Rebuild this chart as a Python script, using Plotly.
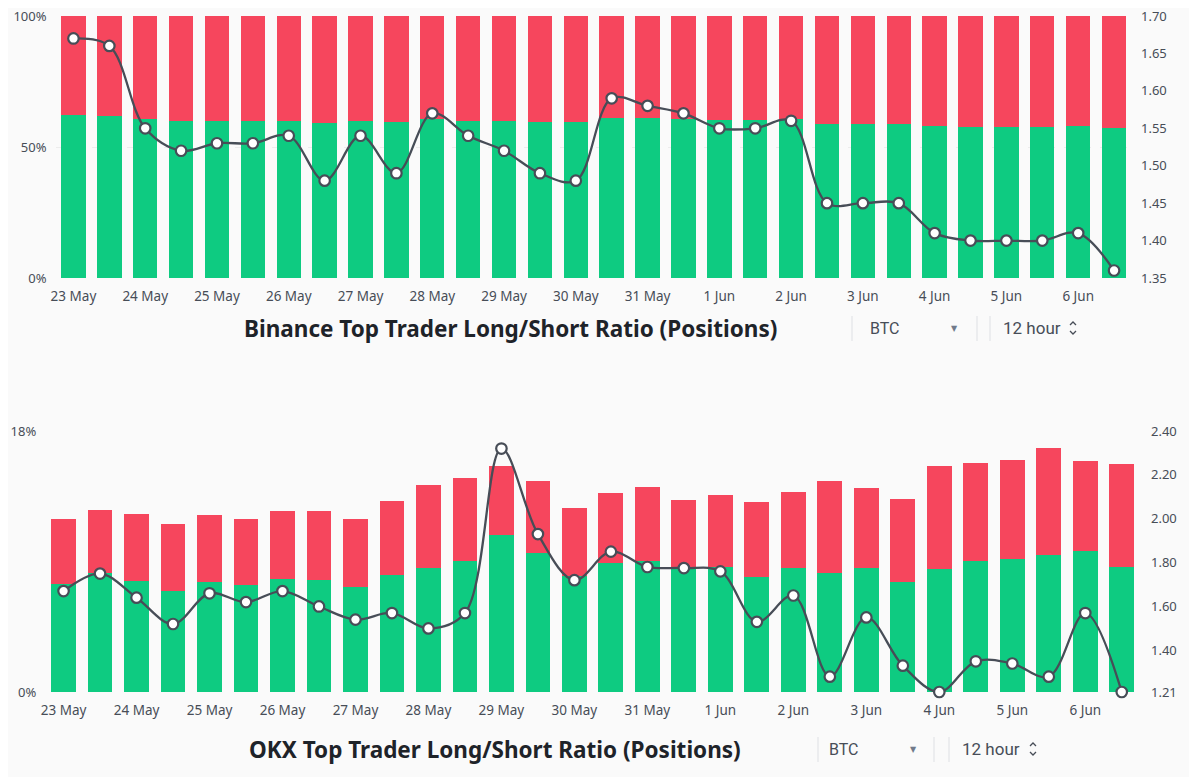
import plotly.graph_objects as go
from plotly.subplots import make_subplots

# 12-hour periods
periods = ["2024-05-23 00:00", "2024-05-23 12:00", "2024-05-24 00:00", "2024-05-24 12:00",
           "2024-05-25 00:00", "2024-05-25 12:00", "2024-05-26 00:00", "2024-05-26 12:00",
           "2024-05-27 00:00", "2024-05-27 12:00", "2024-05-28 00:00", "2024-05-28 12:00",
           "2024-05-29 00:00", "2024-05-29 12:00", "2024-05-30 00:00", "2024-05-30 12:00",
           "2024-05-31 00:00", "2024-05-31 12:00", "2024-06-01 00:00", "2024-06-01 12:00",
           "2024-06-02 00:00", "2024-06-02 12:00", "2024-06-03 00:00", "2024-06-03 12:00",
           "2024-06-04 00:00", "2024-06-04 12:00", "2024-06-05 00:00", "2024-06-05 12:00",
           "2024-06-06 00:00", "2024-06-06 12:00"]

# Binance: long / short positions (%) and ratio
binance_long = [62.1, 62.0, 60.6, 59.9, 60.0, 60.0, 60.1, 59.3, 60.1, 59.4,
                60.7, 60.1, 59.8, 59.4, 59.4, 61.0, 60.9, 60.6, 60.3, 60.3,
                60.5, 58.7, 58.8, 58.7, 58.0, 57.8, 57.8, 57.8, 58.1, 57.3]
binance_short = [37.9, 38.0, 39.4, 40.1, 40.0, 40.0, 39.9, 40.7, 39.9, 40.6,
                 39.3, 39.9, 40.2, 40.6, 40.6, 39.0, 39.1, 39.4, 39.7, 39.7,
                 39.5, 41.3, 41.2, 41.3, 42.0, 42.2, 42.2, 42.2, 41.9, 42.7]
binance_ratio = [1.67, 1.66, 1.55, 1.52, 1.53, 1.53, 1.54, 1.48, 1.54, 1.49,
                 1.57, 1.54, 1.52, 1.49, 1.48, 1.59, 1.58, 1.57, 1.55, 1.55,
                 1.56, 1.45, 1.45, 1.45, 1.41, 1.40, 1.40, 1.40, 1.41, 1.36]
binance_pct_ticks = [0, 50, 100]
binance_pct_labels = ["0%", "50%", "100%"]

# OKX: long / short (%) and ratio
okx_long = [7.45, 8.20, 7.63, 6.97, 7.61, 7.36, 7.80, 7.70, 7.22, 8.04,
            8.55, 9.01, 10.85, 9.56, 8.00, 8.87, 9.03, 8.64, 8.62, 7.91,
            8.55, 8.18, 8.53, 7.61, 8.50, 9.06, 9.15, 9.45, 9.72, 8.62]
okx_short = [4.48, 4.35, 4.67, 4.62, 4.59, 4.54, 4.70, 4.80, 4.73, 5.16,
             5.70, 5.77, 4.71, 4.99, 4.67, 4.83, 5.11, 4.58, 4.94, 5.17,
             5.22, 6.39, 5.52, 5.72, 7.06, 6.73, 6.87, 7.38, 6.23, 7.10]
okx_ratio = [1.67, 1.75, 1.64, 1.52, 1.66, 1.62, 1.67, 1.60, 1.54, 1.57,
             1.50, 1.57, 2.32, 1.93, 1.72, 1.85, 1.78, 1.775, 1.76, 1.53,
             1.65, 1.28, 1.55, 1.33, 1.21, 1.35, 1.34, 1.28, 1.57, 1.21]
okx_pct_ticks = [0, 18]
okx_pct_labels = ["0%", "18%"]
okx_ratio_ticks = [1.21, 1.40, 1.60, 1.80, 2.00, 2.20, 2.40]

GREEN = "#0ecb81"
RED = "#f6465d"
LINE = "#474d57"
BG = "#fafafa"
OFF = 8  # page body margin
W, H = 1197 - OFF, 777 - OFF


def px(x):
    return (x - OFF) / W


def py(y):
    return 1 - (y - OFF) / H


fig = make_subplots(rows=2, cols=1,
                    specs=[[{"secondary_y": True}], [{"secondary_y": True}]])


def add_panel(row, long_vals, short_vals, ratio):
    fig.add_trace(go.Bar(x=periods, y=long_vals, marker_color=GREEN,
                         marker_line_width=0, showlegend=False),
                  row=row, col=1, secondary_y=False)
    fig.add_trace(go.Bar(x=periods, y=short_vals, marker_color=RED,
                         marker_line_width=0, showlegend=False),
                  row=row, col=1, secondary_y=False)
    fig.add_trace(go.Scatter(x=periods, y=ratio, mode="lines+markers",
                             line=dict(color=LINE, width=2.3, shape="spline", smoothing=1),
                             marker=dict(size=10.5, color="white", line=dict(color=LINE, width=2.2)),
                             cliponaxis=False, showlegend=False),
                  row=row, col=1, secondary_y=True)


add_panel(1, binance_long, binance_short, binance_ratio)
add_panel(2, okx_long, okx_short, okx_ratio)

tickfont = dict(family="Noto Sans", size=13, color="#474d57")
ycommon = dict(zeroline=False, tickfont=tickfont, ticklabeloverflow="allow")
xcommon = dict(type="date", range=["2024-05-22 18:00", "2024-06-06 18:00"],
               dtick=86400000, tick0="2024-05-23", tickformat="%-d %b",
               showgrid=False, zeroline=False, showline=False, ticks="",
               ticklabeloverflow="allow", ticklabelstandoff=8,
               tickfont=dict(family="Noto Sans", size=13.5, color="#474d57"))

fig.update_layout(
    width=W, height=H,
    margin=dict(l=0, r=0, t=0, b=0, autoexpand=False),
    paper_bgcolor=BG, plot_bgcolor=BG,
    barmode="stack", bargap=0.32,
    font=dict(family="Noto Sans", color="#474d57"),
    xaxis=dict(domain=[px(55.5), px(1132)], **xcommon),
    xaxis2=dict(domain=[px(45.3), px(1140)], **xcommon),
    yaxis=dict(domain=[py(278), py(16)], range=[0, 100],
               tickvals=binance_pct_ticks, ticktext=binance_pct_labels,
               showgrid=True, gridcolor="#ececec", griddash="dash",
               ticklabelstandoff=8, **ycommon),
    yaxis2=dict(range=[1.35, 1.70], dtick=0.05, tickformat=".2f",
                showgrid=False, ticklabelstandoff=8, **ycommon),
    yaxis3=dict(domain=[py(692), py(431)], range=[0, 18],
                tickvals=okx_pct_ticks, ticktext=okx_pct_labels,
                showgrid=True, gridcolor="#e6e6e6", griddash="dash",
                ticklabelstandoff=8, **ycommon),
    yaxis4=dict(range=[1.21, 2.40], tickvals=okx_ratio_ticks, tickformat=".2f",
                showgrid=False, ticklabelstandoff=10, **ycommon),
)

titles = [("Binance Top Trader Long/Short Ratio (Positions)", 510, 328),
          ("OKX Top Trader Long/Short Ratio (Positions)", 495, 749)]
for text, x, y in titles:
    fig.add_annotation(x=px(x), y=py(y), xref="paper", yref="paper", text=text,
                       showarrow=False, xanchor="center", yanchor="middle",
                       font=dict(family="Noto Sans", size=22.5, color="#1e2329", weight="bold"))

# selector controls under each chart: (BTC x, arrow x, separators, hour x, chevron x, y)
controls = [(868, 954, [852, 977, 990], 1001, 1073, 328),
            (827, 913, [818, 934, 949], 960, 1033, 749)]
for bx, ax, seps, hx, cx, y in controls:
    fig.add_annotation(x=px(bx), y=py(y), xref="paper", yref="paper", text="BTC",
                       showarrow=False, xanchor="left", yanchor="middle",
                       font=dict(family="Roboto", size=16, color="#474d57"))
    fig.add_annotation(x=px(ax), y=py(y), xref="paper", yref="paper", text="▼",
                       showarrow=False, xanchor="center", yanchor="middle",
                       font=dict(family="DejaVu Sans", size=8, color="#707a8a"))
    fig.add_annotation(x=px(hx), y=py(y), xref="paper", yref="paper", text="12 hour",
                       showarrow=False, xanchor="left", yanchor="middle",
                       font=dict(family="Roboto", size=17, color="#474d57"))
    for sx in seps:
        fig.add_shape(type="line", xref="paper", yref="paper",
                      x0=px(sx), x1=px(sx), y0=py(y - 12), y1=py(y + 13),
                      line=dict(color="#e3e5e8", width=1.2))
    # up/down chevrons
    fig.add_shape(type="path", xref="paper", yref="paper",
                  path="M %f %f L %f %f L %f %f" % (px(cx - 3), py(y - 3), px(cx), py(y - 6),
                                                    px(cx + 3), py(y - 3)),
                  line=dict(color="#474d57", width=1.3))
    fig.add_shape(type="path", xref="paper", yref="paper",
                  path="M %f %f L %f %f L %f %f" % (px(cx - 3), py(y + 3), px(cx), py(y + 6),
                                                    px(cx + 3), py(y + 3)),
                  line=dict(color="#474d57", width=1.3))

fig.write_html("out.html")
